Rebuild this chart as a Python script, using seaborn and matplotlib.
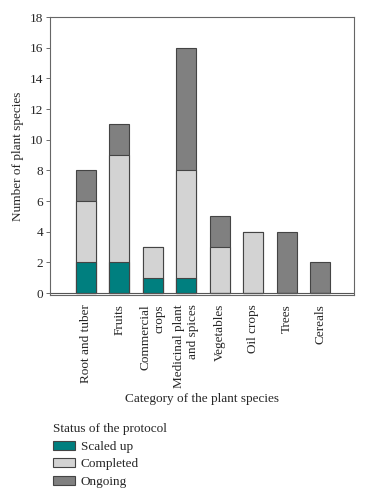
import numpy as np
import pandas as pd
import matplotlib
matplotlib.use("Agg")
import matplotlib.pyplot as plt
from matplotlib.patches import Patch
import seaborn as sns

# data
categories = ["Root and tuber", "Fruits", "Commercial\ncrops", "Medicinal plant\nand spices",
              "Vegetables", "Oil crops", "Trees", "Cereals"]
scaled_up = [2, 2, 1, 1, 0, 0, 0, 0]
completed = [4, 7, 2, 7, 3, 4, 0, 0]
ongoing = [2, 2, 0, 8, 2, 0, 4, 2]
status = ["Scaled up", "Completed", "Ongoing"]
colors = ["#007f7f", "#d3d3d3", "#808080"]

sns.set_style("white")
plt.rcParams['font.family'] = ['Liberation Serif', 'DejaVu Serif']

# cumulative heights so the bars can be layered (tallest first)
df = pd.DataFrame({"category": categories,
                   "Scaled up": scaled_up,
                   "Completed": completed,
                   "Ongoing": ongoing})
df["cum1"] = df["Scaled up"]
df["cum2"] = df["cum1"] + df["Completed"]
df["cum3"] = df["cum2"] + df["Ongoing"]

fig = plt.figure(figsize=(3.67, 5), dpi=100)
ax = fig.add_axes([0.136, 0.41, 0.829, 0.556])

for col, c in zip(["cum3", "cum2", "cum1"], colors[::-1]):
    sns.barplot(data=df, x="category", y=col, color=c, width=0.6,
                edgecolor="#444444", linewidth=0.8, saturation=1, ax=ax)

ax.axhline(0, color="#555555", lw=0.8)
ax.set_xlim(-1.07, 8.01)
ax.set_ylim(-0.13, 18)
ax.set_yticks(np.arange(0, 19, 2))
ax.tick_params(axis="y", left=True, length=3, width=0.6, color="#555555", labelsize=9.5, pad=2)
ax.tick_params(axis="x", bottom=False, labelsize=9.5, pad=3)
ax.set_xticks(range(len(categories)))
ax.set_xticklabels(categories, rotation=90, ha="center", va="top", multialignment="right",
                   linespacing=1.25)
for s in ax.spines.values():
    s.set_color("#666666")
    s.set_linewidth(0.8)
ax.set_ylabel("Number of plant species", fontsize=9.5, labelpad=4)
ax.set_xlabel("Category of the plant species", fontsize=9.5, labelpad=4)

handles = [Patch(facecolor=c, edgecolor="#444444", linewidth=0.8, label=s) for s, c in zip(status, colors)]
fig.legend(handles=handles, title="Status of the protocol", loc="upper left",
           bbox_to_anchor=(0.118, 0.172), frameon=False, fontsize=9.5, title_fontsize=9.5,
           alignment="left", handlelength=1.7, handleheight=0.7, handletextpad=0.45,
           labelspacing=0.4, borderpad=0.2)

fig.savefig("out.png", dpi=100)
